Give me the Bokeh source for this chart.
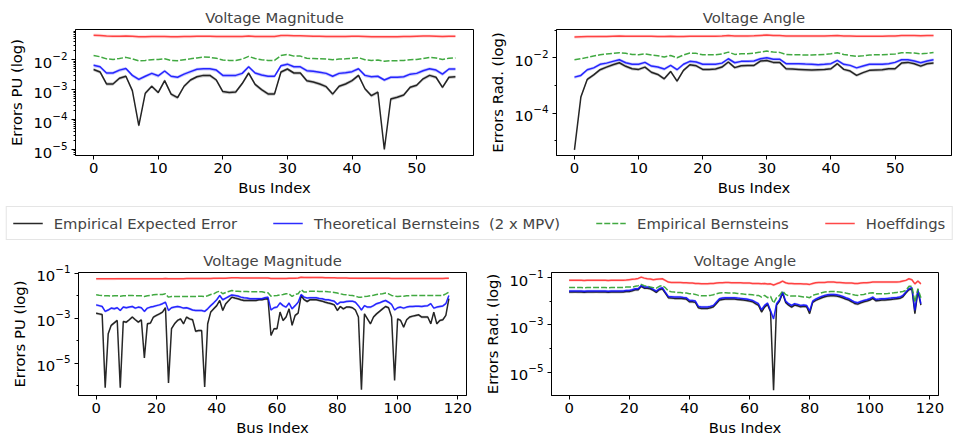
import numpy as np
from bokeh.plotting import figure
from bokeh.layouts import column, row
from bokeh.models import Range1d, FixedTicker, Legend, LegendItem
from bokeh.embed import file_html
from bokeh.resources import INLINE

# ---------------- data ----------------
# 57-bus case
tl_black = [
    0.0047, 0.0039, 0.00155, 0.00155, 0.0024, 0.0028, 0.00093, 6.3e-5, 7.6e-4, 0.0013,
    8.0e-4, 0.0020, 7.1e-4, 5.4e-4, 0.0013, 0.0021, 0.0027, 0.0030, 0.0030, 0.0021,
    8.6e-4, 8.0e-4, 8.4e-4, 0.0016, 0.0036, 0.0015, 0.0010, 7.2e-4, 7.2e-4, 0.0039,
    0.0049, 0.0036, 0.0036, 0.0020, 0.0018, 0.00155, 0.00126, 7.1e-4, 0.0013, 0.00155,
    0.0020, 0.0030, 0.00107, 6.3e-4, 8.3e-4, 1.0e-5, 4.9e-4, 5.6e-4, 6.6e-4, 0.0012,
    0.0014, 0.0023, 0.0030, 0.0026, 0.0012, 0.0026, 0.0027]
tl_blue = [
    0.0065, 0.0058, 0.0036, 0.0036, 0.0045, 0.0051, 0.0030, 0.0022, 0.0028, 0.0035,
    0.0029, 0.0042, 0.0028, 0.0026, 0.0033, 0.0040, 0.0048, 0.0050, 0.0050, 0.0045,
    0.0030, 0.0030, 0.0030, 0.0035, 0.0058, 0.0036, 0.0031, 0.0028, 0.0028, 0.0063,
    0.0071, 0.0058, 0.0058, 0.0043, 0.0041, 0.0038, 0.0035, 0.0028, 0.0035, 0.0037,
    0.0040, 0.0050, 0.0030, 0.0027, 0.0028, 0.0021, 0.0026, 0.0026, 0.0027, 0.0033,
    0.0035, 0.0043, 0.0050, 0.0045, 0.0033, 0.0049, 0.0049]
tl_green = [
    0.0138, 0.0126, 0.0107, 0.0102, 0.0110, 0.0120, 0.0107, 0.0091, 0.0095, 0.0100,
    0.0102, 0.0107, 0.0095, 0.0093, 0.0100, 0.0107, 0.0115, 0.0123, 0.0120, 0.0112,
    0.0098, 0.0095, 0.0095, 0.0105, 0.0129, 0.0110, 0.0100, 0.0095, 0.0095, 0.0138,
    0.0151, 0.0132, 0.0132, 0.0112, 0.0110, 0.0107, 0.0105, 0.0100, 0.0105, 0.0107,
    0.0112, 0.0117, 0.0100, 0.0095, 0.0098, 0.0089, 0.0093, 0.0093, 0.0095, 0.0100,
    0.0102, 0.0110, 0.0120, 0.0115, 0.0102, 0.0112, 0.0115]
tl_red = [
    0.066, 0.065, 0.062, 0.061, 0.061, 0.062, 0.061, 0.059, 0.059, 0.060,
    0.060, 0.060, 0.059, 0.059, 0.060, 0.060, 0.061, 0.061, 0.061, 0.060,
    0.060, 0.060, 0.060, 0.060, 0.062, 0.060, 0.060, 0.060, 0.060, 0.064,
    0.065, 0.063, 0.063, 0.062, 0.061, 0.061, 0.060, 0.060, 0.060, 0.060,
    0.061, 0.061, 0.060, 0.059, 0.059, 0.059, 0.059, 0.059, 0.060, 0.060,
    0.061, 0.062, 0.062, 0.061, 0.060, 0.061, 0.061]

tr_black = [
    4.7e-6, 3.8e-4, 0.00166, 0.0024, 0.0037, 0.0046, 0.0056, 0.0066, 0.0049, 0.0040,
    0.0038, 0.0046, 0.0030, 0.0025, 0.00174, 0.0032, 0.00144, 0.0035, 0.0056, 0.0051,
    0.0038, 0.0038, 0.0039, 0.0046, 0.0070, 0.0044, 0.0051, 0.0053, 0.0053, 0.0076,
    0.0080, 0.0068, 0.0068, 0.0040, 0.0039, 0.0038, 0.0037, 0.0036, 0.0037, 0.0038,
    0.0040, 0.0061, 0.0038, 0.0033, 0.0023, 0.0029, 0.0035, 0.0036, 0.0037, 0.0040,
    0.0040, 0.0064, 0.0068, 0.0061, 0.0050, 0.0061, 0.0064]
tr_blue = [
    0.0020, 0.0023, 0.0037, 0.0043, 0.0058, 0.0064, 0.0074, 0.0085, 0.0066, 0.0058,
    0.0058, 0.0068, 0.0050, 0.0046, 0.0039, 0.0053, 0.0037, 0.0058, 0.0074, 0.0070,
    0.0058, 0.0058, 0.0058, 0.0064, 0.0092, 0.0066, 0.0074, 0.0074, 0.0076, 0.0092,
    0.0100, 0.0089, 0.0089, 0.0061, 0.0061, 0.0061, 0.0059, 0.0058, 0.0056, 0.0058,
    0.0061, 0.0080, 0.0058, 0.0053, 0.0043, 0.0050, 0.0058, 0.0058, 0.0058, 0.0061,
    0.0068, 0.0085, 0.0085, 0.0076, 0.0066, 0.0076, 0.0085]
tr_green = [
    0.0085, 0.0092, 0.0103, 0.0115, 0.0128, 0.0136, 0.0144, 0.0152, 0.0144, 0.0132,
    0.0128, 0.0139, 0.0126, 0.0118, 0.0106, 0.0121, 0.0100, 0.0126, 0.0148, 0.0144,
    0.0128, 0.0128, 0.0128, 0.0136, 0.0160, 0.0132, 0.0139, 0.0139, 0.0148, 0.0160,
    0.0174, 0.0160, 0.0156, 0.0132, 0.0128, 0.0128, 0.0126, 0.0126, 0.0128, 0.0132,
    0.0139, 0.0152, 0.0132, 0.0121, 0.0112, 0.0118, 0.0126, 0.0128, 0.0128, 0.0132,
    0.0136, 0.0152, 0.0152, 0.0148, 0.0139, 0.0144, 0.0156]
tr_red = [
    0.056, 0.057, 0.058, 0.058, 0.059, 0.059, 0.060, 0.061, 0.060, 0.060,
    0.060, 0.060, 0.060, 0.059, 0.059, 0.060, 0.058, 0.059, 0.060, 0.060,
    0.060, 0.060, 0.060, 0.061, 0.063, 0.061, 0.061, 0.061, 0.062, 0.064,
    0.066, 0.064, 0.063, 0.061, 0.061, 0.061, 0.061, 0.061, 0.061, 0.061,
    0.062, 0.063, 0.061, 0.061, 0.060, 0.060, 0.060, 0.060, 0.060, 0.061,
    0.061, 0.063, 0.063, 0.063, 0.062, 0.063, 0.063]

# 118-bus case
bl_black = [
    0.00166, 0.00155, 0.00144, 8.1e-7, 0.0002, 0.00048, 0.00062, 0.00079, 8.1e-7, 0.00071,
    0.00066, 0.00085, 0.00112, 0.00085, 0.00066, 0.00085, 1.7e-5, 0.00056, 0.0006, 0.00112,
    0.00132, 0.00155, 0.00186, 0.0029, 1.3e-6, 0.00034, 0.00056, 0.00079, 0.00093, 0.00056,
    0.00112, 0.00093, 0.00085, 0.00026, 0.00028, 0.00028, 8.7e-7, 0.00056, 0.00186, 0.0026,
    0.0036, 0.0061, 0.0022, 0.0044, 0.0061, 0.0086, 0.0078, 0.0073, 0.0066, 0.0061,
    0.0061, 0.0061, 0.0061, 0.0061, 0.0066, 0.0066, 0.0071, 0.0073, 0.00017, 0.00034,
    0.00034, 0.00186, 0.00079, 0.00112, 0.0026, 0.00048, 0.00132, 0.00166, 0.0102, 0.0066,
    0.0055, 0.0066, 0.0066, 0.0066, 0.0061, 0.0057, 0.0051, 0.0047, 0.0044, 0.0039,
    0.0022, 0.0033, 0.0026, 0.0031, 0.0031, 0.0029, 0.0023, 0.00112, 6.6e-7, 0.00155,
    0.00093, 0.00056, 0.00112, 0.00155, 0.0020, 0.0026, 0.0033, 0.0029, 0.00112, 1.7e-6,
    0.00093, 0.00079, 0.0004, 0.00085, 0.00112, 0.00123, 0.00132, 0.0014, 0.00112, 0.00112,
    0.00112, 0.00056, 0.00186, 0.00056, 0.00079, 0.00085, 0.00132, 0.0073]
bl_blue = [
    0.0039, 0.0036, 0.0033, 0.0020, 0.0023, 0.0028, 0.0026, 0.0029, 0.0022, 0.0031,
    0.0029, 0.0031, 0.0033, 0.0028, 0.0031, 0.0029, 0.0020, 0.0028, 0.0031, 0.0033,
    0.0036, 0.0039, 0.0044, 0.0051, 0.0022, 0.0029, 0.0031, 0.0033, 0.0031, 0.0028,
    0.0029, 0.0026, 0.0023, 0.0022, 0.0022, 0.0022, 0.0020, 0.0026, 0.0036, 0.0048,
    0.0066, 0.0102, 0.0066, 0.0078, 0.0092, 0.0108, 0.0102, 0.0096, 0.0086, 0.0081,
    0.0078, 0.0073, 0.0073, 0.0073, 0.0073, 0.0073, 0.0081, 0.0086, 0.0023, 0.0029,
    0.0031, 0.0048, 0.0036, 0.0031, 0.0047, 0.0026, 0.0036, 0.0051, 0.0113, 0.0086,
    0.0078, 0.0081, 0.0081, 0.0081, 0.0075, 0.0073, 0.0066, 0.0066, 0.0061, 0.0057,
    0.0041, 0.0051, 0.0051, 0.0055, 0.0057, 0.0057, 0.0051, 0.0036, 0.0023, 0.0036,
    0.0031, 0.0031, 0.0036, 0.0044, 0.0048, 0.0055, 0.0061, 0.0051, 0.0041, 0.0023,
    0.0029, 0.0031, 0.0028, 0.0031, 0.0033, 0.0033, 0.0034, 0.0034, 0.0033, 0.0035,
    0.0036, 0.0044, 0.0028, 0.0031, 0.0033, 0.0035, 0.0044, 0.0102]
bl_green = [
    0.0109, 0.0105, 0.0102, 0.0099, 0.0099, 0.0095, 0.0099, 0.0099, 0.0095, 0.0099,
    0.0099, 0.0102, 0.0102, 0.0099, 0.0099, 0.0099, 0.0092, 0.0099, 0.0102, 0.0109,
    0.0113, 0.0113, 0.0113, 0.0121, 0.0086, 0.0092, 0.0092, 0.0092, 0.0092, 0.0092,
    0.0092, 0.0092, 0.0092, 0.0092, 0.0095, 0.0095, 0.0092, 0.0099, 0.0113, 0.0121,
    0.0144, 0.0159, 0.0121, 0.0139, 0.0154, 0.0170, 0.0159, 0.0159, 0.0154, 0.0154,
    0.0154, 0.0148, 0.0148, 0.0148, 0.0148, 0.0148, 0.0139, 0.0134, 0.0095, 0.0099,
    0.0102, 0.0109, 0.0113, 0.0121, 0.0121, 0.0092, 0.0113, 0.0121, 0.0182, 0.0144,
    0.0144, 0.0159, 0.0159, 0.0159, 0.0154, 0.0154, 0.0154, 0.0148, 0.0144, 0.0139,
    0.0130, 0.0121, 0.0113, 0.0109, 0.0105, 0.0102, 0.0095, 0.0086, 0.0086, 0.0092,
    0.0095, 0.0099, 0.0105, 0.0113, 0.0117, 0.0121, 0.0130, 0.0121, 0.0102, 0.0095,
    0.0092, 0.0095, 0.0095, 0.0099, 0.0099, 0.0102, 0.0102, 0.0102, 0.0102, 0.0102,
    0.0102, 0.0102, 0.0102, 0.0102, 0.0102, 0.0102, 0.0121, 0.0144]
bl_red = [
    0.056, 0.056, 0.056, 0.056, 0.056, 0.056, 0.056, 0.057, 0.057, 0.057,
    0.057, 0.057, 0.057, 0.057, 0.057, 0.057, 0.057, 0.057, 0.057, 0.057,
    0.057, 0.057, 0.057, 0.058, 0.057, 0.057, 0.057, 0.057, 0.057, 0.057,
    0.058, 0.058, 0.058, 0.058, 0.058, 0.058, 0.058, 0.058, 0.058, 0.059,
    0.059, 0.060, 0.059, 0.060, 0.061, 0.062, 0.062, 0.062, 0.061, 0.061,
    0.061, 0.061, 0.061, 0.061, 0.061, 0.061, 0.061, 0.061, 0.058, 0.058,
    0.058, 0.058, 0.058, 0.058, 0.059, 0.059, 0.060, 0.061, 0.066, 0.065,
    0.064, 0.064, 0.065, 0.065, 0.064, 0.064, 0.063, 0.063, 0.062, 0.062,
    0.061, 0.061, 0.061, 0.061, 0.060, 0.060, 0.060, 0.059, 0.059, 0.059,
    0.059, 0.059, 0.059, 0.059, 0.059, 0.059, 0.059, 0.059, 0.058, 0.058,
    0.058, 0.058, 0.058, 0.058, 0.058, 0.058, 0.058, 0.058, 0.058, 0.058,
    0.058, 0.058, 0.058, 0.058, 0.058, 0.058, 0.059, 0.060]

br_black = [
    0.0246, 0.0246, 0.0250, 0.0246, 0.0246, 0.0242, 0.0246, 0.0246, 0.0246, 0.0250,
    0.0246, 0.0246, 0.0246, 0.0242, 0.0246, 0.0246, 0.0246, 0.0246, 0.0250, 0.0260,
    0.026, 0.028, 0.031, 0.031, 0.043, 0.036, 0.036, 0.034, 0.029, 0.0238,
    0.031, 0.034, 0.0223, 0.0142, 0.0137, 0.0133, 0.0133, 0.0133, 0.0129, 0.0124,
    0.0096, 0.0096, 0.0090, 0.0053, 0.0050, 0.0050, 0.0050, 0.0053, 0.0059, 0.0081,
    0.0113, 0.0120, 0.0124, 0.0124, 0.0124, 0.0124, 0.0120, 0.0117, 0.0113, 0.0109,
    0.0102, 0.0096, 0.0079, 0.0067, 0.0035, 0.0057, 0.0074, 0.0035, 1.7e-6, 0.0069,
    0.0102, 0.0223, 0.0090, 0.0069, 0.0057, 0.0069, 0.0065, 0.0059, 0.0061, 0.0059,
    0.0030, 0.0090, 0.0109, 0.0124, 0.0142, 0.0156, 0.0167, 0.0172, 0.0172, 0.0167,
    0.0156, 0.0142, 0.0124, 0.0113, 0.0096, 0.0081, 0.0076, 0.0087, 0.0096, 0.0102,
    0.0113, 0.0133, 0.0106, 0.0109, 0.0113, 0.0113, 0.0117, 0.0120, 0.0124, 0.0129,
    0.0133, 0.0156, 0.0223, 0.031, 0.034, 0.0030, 0.027, 0.0069]
br_blue = [
    0.027, 0.027, 0.0275, 0.027, 0.027, 0.0266, 0.027, 0.027, 0.027, 0.0275,
    0.027, 0.027, 0.027, 0.0266, 0.027, 0.027, 0.027, 0.027, 0.0275, 0.029,
    0.029, 0.031, 0.034, 0.034, 0.047, 0.040, 0.040, 0.038, 0.032, 0.027,
    0.034, 0.038, 0.0246, 0.0161, 0.0156, 0.0151, 0.0151, 0.0151, 0.0146, 0.0142,
    0.0109, 0.0109, 0.0102, 0.0061, 0.0057, 0.0057, 0.0057, 0.0061, 0.0067, 0.0093,
    0.0129, 0.0137, 0.0142, 0.0142, 0.0142, 0.0142, 0.0137, 0.0133, 0.0129, 0.0124,
    0.0117, 0.0109, 0.0093, 0.0079, 0.0044, 0.0067, 0.0084, 0.0041, 0.0018, 0.0079,
    0.0117, 0.0246, 0.0102, 0.0079, 0.0067, 0.0079, 0.0074, 0.0067, 0.0069, 0.0067,
    0.0039, 0.0102, 0.0124, 0.0142, 0.0161, 0.0178, 0.0190, 0.0196, 0.0196, 0.0190,
    0.0178, 0.0161, 0.0142, 0.0129, 0.0109, 0.0093, 0.0087, 0.0099, 0.0109, 0.0117,
    0.0129, 0.0151, 0.0120, 0.0124, 0.0129, 0.0129, 0.0133, 0.0137, 0.0142, 0.0146,
    0.0151, 0.0178, 0.0246, 0.034, 0.038, 0.0041, 0.031, 0.0079]
br_green = [
    0.038, 0.038, 0.0385, 0.038, 0.038, 0.0375, 0.038, 0.038, 0.038, 0.0385,
    0.038, 0.038, 0.038, 0.0375, 0.038, 0.038, 0.038, 0.038, 0.0385, 0.040,
    0.040, 0.040, 0.043, 0.046, 0.052, 0.046, 0.043, 0.040, 0.038, 0.036,
    0.043, 0.046, 0.038, 0.027, 0.0254, 0.0246, 0.0238, 0.0238, 0.0223, 0.0223,
    0.021, 0.021, 0.0196, 0.0178, 0.0172, 0.0172, 0.0172, 0.0178, 0.019, 0.021,
    0.0223, 0.023, 0.023, 0.0223, 0.0223, 0.0223, 0.0216, 0.021, 0.0202, 0.0196,
    0.0196, 0.019, 0.0178, 0.0178, 0.0151, 0.0178, 0.0142, 0.0161, 0.0084, 0.0142,
    0.0178, 0.027, 0.0196, 0.0172, 0.0167, 0.0167, 0.0167, 0.0161, 0.0151, 0.0151,
    0.0142, 0.0178, 0.0196, 0.021, 0.023, 0.0246, 0.0254, 0.026, 0.026, 0.0254,
    0.0246, 0.0238, 0.0223, 0.021, 0.0196, 0.0184, 0.0178, 0.019, 0.0196, 0.021,
    0.0223, 0.023, 0.021, 0.021, 0.021, 0.021, 0.0216, 0.0223, 0.023, 0.0238,
    0.0246, 0.026, 0.029, 0.043, 0.044, 0.0093, 0.034, 0.0142]
br_red = [
    0.077, 0.077, 0.078, 0.077, 0.077, 0.076, 0.077, 0.077, 0.077, 0.078,
    0.077, 0.077, 0.077, 0.076, 0.077, 0.077, 0.077, 0.077, 0.078, 0.079,
    0.082, 0.085, 0.088, 0.093, 0.106, 0.096, 0.090, 0.088, 0.082, 0.085,
    0.088, 0.090, 0.077, 0.065, 0.063, 0.063, 0.063, 0.063, 0.061, 0.061,
    0.059, 0.059, 0.057, 0.057, 0.055, 0.055, 0.055, 0.057, 0.057, 0.059,
    0.061, 0.061, 0.063, 0.063, 0.061, 0.061, 0.061, 0.061, 0.059, 0.059,
    0.059, 0.057, 0.057, 0.057, 0.055, 0.057, 0.054, 0.055, 0.049, 0.055,
    0.061, 0.072, 0.061, 0.057, 0.057, 0.055, 0.055, 0.055, 0.054, 0.054,
    0.052, 0.057, 0.061, 0.063, 0.063, 0.063, 0.065, 0.065, 0.065, 0.063,
    0.063, 0.061, 0.059, 0.059, 0.059, 0.057, 0.057, 0.059, 0.061, 0.061,
    0.063, 0.065, 0.065, 0.065, 0.065, 0.065, 0.065, 0.065, 0.065, 0.065,
    0.067, 0.072, 0.077, 0.090, 0.082, 0.055, 0.072, 0.055]

legend_labels = ["Empirical Expected Error", "Theoretical Bernsteins  (2 x MPV)",
                 "Empirical Bernsteins", "Hoeffdings"]
titles = ["Voltage Magnitude", "Voltage Angle", "Voltage Magnitude", "Voltage Angle"]
ylabels = ["Errors PU (log)", "Errors Rad. (log)", "Errors PU (log)", "Errors Rad. (log)"]
xlabel = "Bus Index"
top_xticks = [0, 10, 20, 30, 40, 50]
bot_xticks = [0, 20, 40, 60, 80, 100, 120]

# ---------------- styling ----------------
FONT = "DejaVu Sans"
FS = "14.8px"
STYLES = [  # color, dash, alpha, band alpha
    ("#111111", "solid", 0.9, 0.22),
    ("#0f0fff", "solid", 0.88, 0.22),
    ("#2ca02c", "6 2", 0.9, 0.0),
    ("#ff2020", "solid", 0.82, 0.15),
]


def panel(title, ylabel, series, xr, yr, xticks, yticks, yminor,
          width, height, bl, br, bt, bb, standoff):
    p = figure(width=width, height=height, x_range=Range1d(*xr), y_range=Range1d(*yr),
               y_axis_type="log", toolbar_location=None, output_backend="svg",
               min_border_left=bl, min_border_right=br, min_border_top=bt,
               min_border_bottom=bb, title=title)
    p.title.align = "center"
    p.title.text_font = FONT
    p.title.text_font_size = FS
    p.title.text_font_style = "normal"
    p.title.standoff = standoff
    for vals, (color, dash, alpha, balpha) in zip(series, STYLES):
        x = np.arange(len(vals))
        v = np.array(vals, dtype=float)
        if balpha > 0:
            p.varea(x=x, y1=v * 0.87, y2=v * 1.13, fill_color=color, fill_alpha=balpha)
        p.line(x, v, line_color=color, line_width=1.5, line_alpha=alpha, line_dash=dash)
    p.grid.visible = False
    p.outline_line_color = "black"
    p.outline_line_alpha = 1.0
    p.outline_line_width = 1
    p.xaxis.ticker = FixedTicker(ticks=xticks, minor_ticks=[])
    p.yaxis.ticker = FixedTicker(ticks=yticks, minor_ticks=yminor)
    for ax in (p.xaxis[0], p.yaxis[0]):
        ax.axis_line_color = "black"
        ax.major_tick_in = 0
        ax.major_tick_out = 4
        ax.minor_tick_in = 0
        ax.minor_tick_out = 2
        ax.major_tick_line_color = "black"
        ax.minor_tick_line_color = "black"
        ax.major_label_text_font = FONT
        ax.major_label_text_font_size = FS
        ax.major_label_text_color = "black"
        ax.axis_label_text_font = FONT
        ax.axis_label_text_font_size = FS
        ax.axis_label_text_font_style = "normal"
        ax.axis_label_text_color = "black"
    p.xaxis.axis_label = xlabel
    p.yaxis.axis_label = ylabel
    p.xaxis.major_label_standoff = 3
    p.xaxis.axis_label_standoff = 3
    p.yaxis.major_label_standoff = 4
    p.yaxis.axis_label_standoff = 5
    return p


def minor_decades(lo, hi):
    out = []
    for k in range(lo, hi):
        for m in range(2, 10):
            out.append(m * 10.0 ** k)
    return out


p1 = panel(titles[0], ylabels[0], [tl_black, tl_blue, tl_green, tl_red],
           (-2.8, 58.8), (10 ** -5.2, 10 ** -0.99), top_xticks,
           [1e-5, 1e-4, 1e-3, 1e-2], minor_decades(-6, -1),
           478, 200, 75, 5, 29, 45, 8)
p2 = panel(titles[1], ylabels[1], [tr_black, tr_blue, tr_green, tr_red],
           (-2.8, 58.8), (10 ** -5.53, 10 ** -0.98), top_xticks,
           [1e-4, 1e-2], [1e-5, 1e-3, 1e-1],
           480, 200, 78, 7, 29, 45, 8)
p3 = panel(titles[2], ylabels[2], [bl_black, bl_blue, bl_green, bl_red],
           (-5.85, 122.85), (10 ** -6.44, 10 ** -0.97), bot_xticks,
           [1e-5, 1e-3, 1e-1], [1e-6, 1e-4, 1e-2],
           478, 193, 78, 12, 26, 44, 7)
p4 = panel(titles[3], ylabels[3], [br_black, br_blue, br_green, br_red],
           (-5.85, 122.85), (10 ** -5.99, 10 ** -0.78), bot_xticks,
           [1e-5, 1e-3, 1e-1], [1e-6, 1e-4, 1e-2],
           480, 193, 73, 20, 26, 44, 7)

# legend strip (legend glyph lines sit outside the visible range)
leg = figure(width=958, height=46, toolbar_location=None, output_backend="svg",
             x_range=Range1d(0, 1), y_range=Range1d(0, 1),
             x_axis_location=None, y_axis_location=None, min_border=0)
leg.grid.visible = False
leg.outline_line_color = None
items = []
for label, (color, dash, alpha, balpha) in zip(legend_labels, STYLES):
    r = leg.line(x=[5, 6], y=[5, 6], line_color=color, line_dash=dash,
                 line_width=1.5, line_alpha=alpha)
    items.append(LegendItem(label=label, renderers=[r]))
legend = Legend(items=items, orientation="horizontal", location="center",
                glyph_width=30, glyph_height=20, label_standoff=11, spacing=36,
                padding=6, margin=0, label_text_font=FONT, label_text_font_size=FS,
                border_line_color="#cccccc", border_line_width=1,
                background_fill_alpha=0.8)
leg.add_layout(legend, "center")

layout = column(row(p1, p2), leg, row(p3, p4))
open("out.html", "w").write(file_html(layout, INLINE))
